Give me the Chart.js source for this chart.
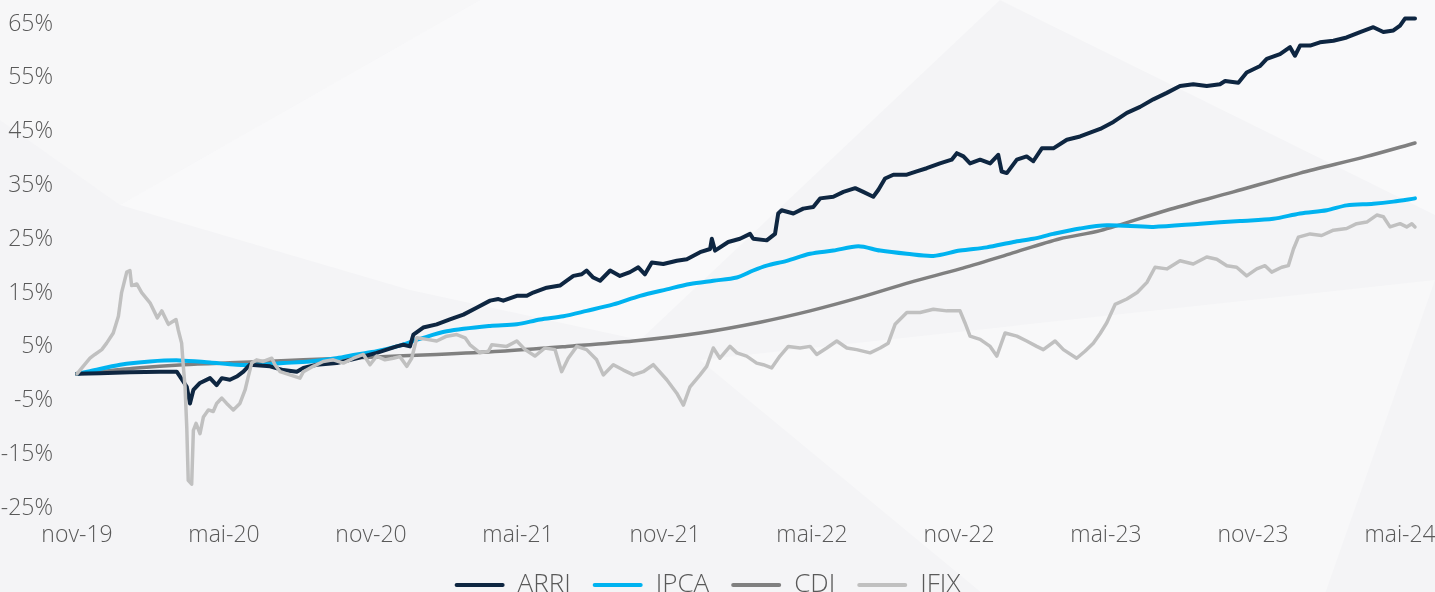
<!DOCTYPE html>
<html>
<head>
<meta charset="utf-8">
<script src="https://cdn.jsdelivr.net/npm/chart.js@4.4.1/dist/chart.umd.min.js"></script>
<style>
  html, body { margin: 0; padding: 0; overflow: hidden; background: #f4f4f6; }
  #wrap { position: relative; width: 1435px; height: 608px; }
  .shape { position: absolute; left: 0; top: 0; width: 1435px; height: 608px; background: #f9f9fa; }
  #s0 { background: #f7f7f8; clip-path: polygon(0 0, 480px 0, 120px 205px, 0 120px); }
  #s1 { clip-path: polygon(120px 205px, 480px 0, 1000px 0, 640px 340px, 410px 290px); }
  #s2 { clip-path: polygon(1000px 0, 1435px 0, 1435px 215px); }
  #s3 { background: #f8f8f9; clip-path: polygon(700px 360px, 1435px 280px, 1320px 608px, 1000px 608px); }
  canvas { position: relative; }
</style>
</head>
<body>
<div id="wrap">
  <div class="shape" id="s0"></div>
  <div class="shape" id="s1"></div>
  <div class="shape" id="s2"></div>
  <div class="shape" id="s3"></div>
  <canvas id="chart"></canvas>
</div>
<script>
// Meses desde nov-19 e retorno acumulado (%)
const xTickLabels = ['nov-19', 'mai-20', 'nov-20', 'mai-21', 'nov-21', 'mai-22', 'nov-22', 'mai-23', 'nov-23', 'mai-24'];

const arriX = [0, 0.94, 2.16, 3.39, 4.07, 4.48, 4.61, 4.75, 5.02, 5.43,
  5.70, 5.91, 6.24, 6.52, 6.79, 7.06, 7.88, 8.42, 8.97, 9.24,
  9.78, 10.60, 11.42, 12.23, 13.05, 13.32, 13.59, 13.73, 14.13, 14.68,
  15.22, 15.77, 16.31, 16.86, 17.20, 17.40, 17.95, 18.36, 18.62, 19.17,
  19.71, 19.99, 20.26, 20.60, 20.80, 21.07, 21.35, 21.76, 22.16, 22.57,
  22.91, 23.18, 23.46, 23.93, 24.48, 24.89, 25.43, 25.84, 25.91, 26.04,
  26.58, 27.06, 27.47, 27.60, 28.15, 28.49, 28.62, 28.76, 29.24, 29.64,
  30.05, 30.33, 30.87, 31.28, 31.76, 32.09, 32.50, 32.71, 32.98, 33.32,
  33.87, 34.27, 34.68, 35.22, 35.70, 35.91, 36.18, 36.45, 36.86, 37.27,
  37.60, 37.74, 37.95, 38.36, 38.76, 39.03, 39.38, 39.85, 40.40, 40.94,
  41.35, 41.76, 42.30, 42.85, 43.39, 43.93, 44.48, 45.02, 45.56, 46.11,
  46.65, 46.86, 47.40, 47.74, 48.29, 48.56, 49.10, 49.51, 49.71, 49.92,
  50.33, 50.73, 51.28, 51.82, 52.37, 52.91, 53.32, 53.73, 54.00, 54.20,
  54.61];
const arriY = [0, 0.1, 0.3, 0.4, 0.4, -2.4, -5.5, -3.0, -1.7, -0.8,
  -2.1, -0.8, -1.1, -0.5, 0.4, 1.7, 1.4, 0.7, 0.4, 1.1,
  1.7, 2.0, 2.9, 3.9, 5.1, 5.4, 5.1, 7.3, 8.6, 9.2,
  10.1, 11.0, 12.3, 13.6, 13.9, 13.6, 14.5, 14.5, 15.1, 16.0,
  16.4, 17.3, 18.2, 18.5, 19.2, 17.9, 17.3, 19.2, 18.2, 18.9,
  19.8, 18.5, 20.7, 20.4, 21.0, 21.3, 22.6, 23.2, 25.1, 22.9,
  24.5, 25.1, 26.0, 25.1, 24.8, 26.0, 29.8, 30.4, 29.8, 30.7,
  31.0, 32.6, 32.9, 33.8, 34.5, 33.8, 32.9, 34.2, 36.3, 37.0,
  37.0, 37.6, 38.2, 39.1, 39.8, 41.0, 40.4, 39.1, 39.8, 39.1,
  40.7, 37.6, 37.3, 39.8, 40.4, 39.5, 41.9, 41.9, 43.5, 44.1,
  44.8, 45.5, 46.8, 48.5, 49.6, 51.0, 52.2, 53.5, 53.8, 53.5,
  53.8, 54.4, 54.1, 56.0, 57.2, 58.5, 59.4, 60.7, 59.1, 61.0,
  61.0, 61.6, 61.9, 62.5, 63.5, 64.4, 63.5, 63.8, 64.7, 66.0,
  66.0];

const ipcaX = [0, 0.53, 1.76, 2.98, 4.20, 5.43, 6.52, 7.33, 8.42, 9.51,
  10.60, 11.42, 12.23, 13.05, 14.00, 15.09, 16.86, 17.95, 18.90, 19.85,
  20.80, 21.89, 22.98, 24.07, 25.02, 25.97, 26.93, 27.60, 28.15, 28.97,
  29.92, 30.87, 31.89, 32.78, 33.87, 34.95, 36.04, 37.13, 38.22, 39.03,
  39.85, 40.94, 42.03, 43.93, 45.84, 47.47, 48.83, 49.92, 51.01, 51.82,
  52.91, 53.73, 54.61];
const ipcaY = [0, 0.5, 1.7, 2.3, 2.5, 2.1, 1.7, 1.7, 2.0, 2.3,
  2.9, 3.6, 4.2, 5.1, 6.5, 7.9, 8.9, 9.2, 10.1, 10.7,
  11.7, 12.9, 14.5, 15.7, 16.7, 17.3, 17.9, 19.2, 20.1, 21.0,
  22.3, 22.9, 23.7, 22.9, 22.3, 21.9, 22.9, 23.5, 24.5, 25.1,
  26.0, 27.0, 27.6, 27.3, 27.9, 28.4, 28.8, 29.8, 30.4, 31.3,
  31.6, 32.0, 32.6];

const cdiX = [0, 2.44, 4.34, 6.52, 9.24, 11.96, 14.68, 17.27, 19.99, 22.71,
  25.43, 27.88, 29.92, 31.96, 34.00, 36.04, 38.08, 40.12, 41.76, 44.48,
  47.20, 49.92, 52.64, 54.61];
const cdiY = [0, 1.1, 1.7, 2.1, 2.6, 3.1, 3.6, 4.2, 5.1, 6.1,
  7.6, 9.6, 11.7, 14.2, 17.0, 19.5, 22.3, 25.1, 26.6, 30.4,
  33.8, 37.3, 40.4, 42.9];

const ifixX = [0, 0.20, 0.53, 0.73, 1.01, 1.21, 1.48, 1.69, 1.82, 2.03,
  2.16, 2.23, 2.44, 2.64, 2.98, 3.28, 3.46, 3.73, 4.04, 4.13,
  4.27, 4.34, 4.41, 4.48, 4.54, 4.68, 4.75, 4.86, 5.02, 5.16,
  5.36, 5.56, 5.70, 5.91, 6.11, 6.38, 6.65, 6.86, 6.99, 7.13,
  7.33, 7.60, 7.95, 8.08, 8.29, 8.69, 9.10, 9.24, 9.64, 10.05,
  10.46, 10.87, 11.28, 11.69, 11.96, 12.23, 12.57, 12.91, 13.18, 13.46,
  13.66, 13.87, 14.27, 14.68, 15.09, 15.50, 15.84, 16.04, 16.45, 16.79,
  16.93, 17.54, 17.95, 18.29, 18.69, 19.10, 19.51, 19.78, 20.05, 20.40,
  20.80, 21.21, 21.48, 21.89, 22.30, 22.71, 23.11, 23.52, 24.07, 24.48,
  24.75, 25.02, 25.43, 25.70, 25.97, 26.24, 26.65, 26.93, 27.33, 27.74,
  28.01, 28.35, 28.69, 29.03, 29.51, 29.92, 30.19, 30.60, 31.01, 31.42,
  31.82, 32.37, 32.78, 33.11, 33.39, 33.87, 34.41, 34.95, 35.50, 36.04,
  36.24, 36.45, 36.86, 37.27, 37.54, 37.88, 38.36, 38.76, 39.17, 39.44,
  39.92, 40.26, 40.80, 41.14, 41.48, 41.76, 42.03, 42.37, 42.85, 43.27,
  43.67, 44.00, 44.48, 45.02, 45.56, 46.11, 46.52, 46.93, 47.33, 47.74,
  48.15, 48.49, 48.76, 49.17, 49.44, 49.65, 49.85, 50.33, 50.80, 51.28,
  51.82, 52.23, 52.64, 53.05, 53.32, 53.59, 54.00, 54.27, 54.48, 54.61];
const ifixY = [0, 1.1, 2.9, 3.6, 4.5, 5.7, 7.6, 10.7, 15.1, 18.9,
  19.2, 16.4, 16.7, 15.1, 13.2, 10.4, 11.7, 9.2, 10.1, 8.2,
  5.7, 1.4, -2.4, -9.9, -19.8, -20.5, -10.5, -9.2, -11.1, -8.0,
  -6.7, -7.0, -5.5, -4.5, -5.5, -6.7, -5.5, -3.0, -0.5, 2.0,
  2.6, 2.3, 2.9, 1.7, 0.4, -0.2, -0.8, 0.4, 1.4, 2.3,
  2.6, 2.0, 2.9, 3.6, 1.7, 3.3, 2.6, 2.9, 3.2, 1.4,
  2.9, 6.7, 6.4, 6.1, 7.0, 7.3, 6.7, 5.4, 3.9, 4.2,
  5.4, 5.1, 6.1, 4.5, 3.3, 4.8, 4.5, 0.4, 2.9, 5.1,
  4.5, 2.6, -0.2, 1.7, 0.7, -0.2, 0.4, 1.7, -1.1, -3.6,
  -5.8, -2.4, -0.2, 1.4, 4.8, 2.9, 5.1, 3.9, 3.3, 2.0,
  1.7, 1.1, 3.3, 5.1, 4.8, 5.1, 3.6, 4.8, 6.1, 4.8,
  4.5, 3.9, 4.8, 5.7, 9.2, 11.4, 11.4, 12.0, 11.7, 11.7,
  9.5, 7.0, 6.4, 5.1, 3.3, 7.6, 7.0, 6.1, 5.1, 4.5,
  6.1, 4.5, 2.9, 4.2, 5.7, 7.5, 9.5, 12.9, 13.9, 15.1,
  17.0, 19.8, 19.5, 21.0, 20.4, 21.7, 21.3, 20.1, 19.8, 18.2,
  19.5, 20.1, 18.9, 19.8, 20.1, 23.2, 25.4, 26.0, 25.7, 26.7,
  27.0, 27.9, 28.2, 29.5, 29.2, 27.3, 27.9, 27.3, 27.9, 27.3];

const textColor = '#595959';
const fontFamily = '"Open Sans", "Noto Sans", sans-serif';

function toPoints(xs, ys) {
  return xs.map((x, i) => ({ x: x, y: ys[i] }));
}

function lineDataset(label, xs, ys, color, width, order, smooth) {
  return {
    label: label,
    data: toPoints(xs, ys),
    borderColor: color,
    backgroundColor: color,
    borderWidth: width,
    pointRadius: 0,
    pointHoverRadius: 0,
    tension: smooth ? 0.3 : 0,
    borderJoinStyle: 'round',
    borderCapStyle: 'round',
    clip: false,
    order: order
  };
}

document.addEventListener('DOMContentLoaded', function () {
  const ctx = document.getElementById('chart');

  new Chart(ctx, {
    type: 'line',
    data: {
      datasets: [
        lineDataset('ARRI', arriX, arriY, '#0e2641', 4, 1, false),
        lineDataset('IPCA', ipcaX, ipcaY, '#00b3f0', 4, 2, true),
        lineDataset('CDI', cdiX, cdiY, '#808080', 3.5, 3, true),
        lineDataset('IFIX', ifixX, ifixY, '#c0c0c0', 3.5, 0, false)
      ]
    },
    options: {
      responsive: true,
      maintainAspectRatio: false,
      animation: false,
      layout: {
        padding: { left: 0, right: 20, top: 24, bottom: 0 }
      },
      plugins: {
        tooltip: { enabled: false },
        legend: {
          position: 'bottom',
          labels: {
            color: textColor,
            font: { family: fontFamily, size: 26, weight: '300' },
            boxWidth: 50,
            boxHeight: 4,
            padding: 22,
            sort: (a, b) => a.datasetIndex - b.datasetIndex,
            generateLabels: function (chart) {
              return Chart.defaults.plugins.legend.labels.generateLabels(chart).map(item => {
                item.lineWidth = 0;
                item.borderRadius = 2;
                return item;
              });
            }
          }
        }
      },
      scales: {
        x: {
          type: 'linear',
          min: 0,
          max: 54.61,
          grid: { display: false, drawTicks: false },
          border: { display: false },
          afterFit: function (scale) {
            scale.paddingRight = 0;
            scale.height -= 12;
          },
          ticks: {
            stepSize: 6,
            includeBounds: false,
            autoSkip: false,
            maxRotation: 0,
            padding: 13,
            color: textColor,
            font: { family: fontFamily, size: 23, weight: '300' },
            callback: function (value) {
              return xTickLabels[Math.round(value / 6)];
            }
          }
        },
        y: {
          min: -25,
          max: 65,
          grid: { display: false, drawTicks: false },
          border: { display: false },
          afterFit: function (scale) {
            scale.width = 77;
            scale.paddingTop = 0;
            scale.paddingBottom = 0;
          },
          ticks: {
            stepSize: 10,
            padding: 24,
            color: textColor,
            font: { family: fontFamily, size: 23, weight: '300' },
            callback: function (value) {
              return value + '%';
            }
          }
        }
      }
    }
  });
});
</script>
</body>
</html>
